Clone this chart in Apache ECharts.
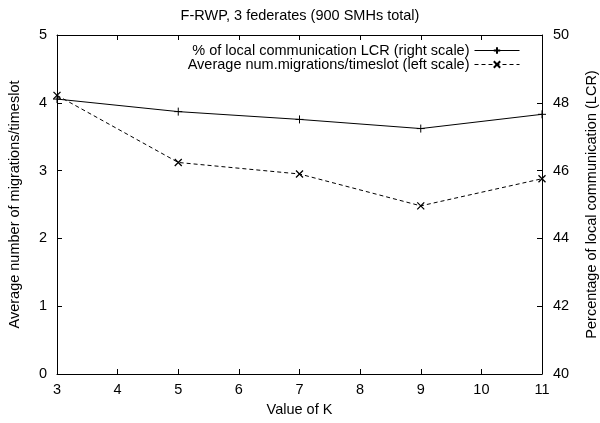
<!DOCTYPE html>
<html>
<head>
<meta charset="utf-8">
<script src="https://cdn.jsdelivr.net/npm/echarts@6/dist/echarts.min.js"></script>
<style>
  html, body { margin: 0; padding: 0; background: #fff; }
  #chart { width: 600px; height: 423px; }
</style>
</head>
<body>
<div id="chart"></div>
<script>
const kValues = [3, 5, 7, 9, 11]
const lcrPercent = [48.11, 47.74, 47.51, 47.24, 47.66]
const avgMigrations = [4.11, 3.12, 2.95, 2.48, 2.88]

const lcrName = '% of local communication LCR (right scale)'
const migName = 'Average num.migrations/timeslot (left scale)'

const font = 'Liberation Sans, Arial, Helvetica, sans-serif'
const fs = 14.5
const plus = 'path://M0,5L10,5M5,0L5,10'
const cross = 'path://M0,0L10,10M10,0L0,10'

const chart = echarts.init(document.getElementById('chart'))

const tickStyle = { inside: true, length: 5, lineStyle: { color: '#000', width: 1 } }
const txt = { fontFamily: font, fontSize: fs, color: '#000' }

const option = {
  animation: false,
  textStyle: { fontFamily: font, color: '#000' },
  title: {
    text: 'F-RWP, 3 federates (900 SMHs total)',
    left: 'center',
    top: 3,
    textStyle: { ...txt, fontWeight: 'normal' }
  },
  legend: {
    orient: 'vertical',
    align: 'right',
    right: 75,
    top: 38,
    itemGap: -1,
    itemWidth: 45,
    itemHeight: 8,
    textStyle: txt,
    lineStyle: { width: 1 },
    data: [lcrName, migName]
  },
  grid: { left: 57, right: 58, top: 35, bottom: 49, outerBoundsMode: 'none' },
  xAxis: [
    {
      type: 'value',
      min: 3,
      max: 11,
      interval: 1,
      name: 'Value of K',
      nameLocation: 'middle',
      nameGap: 28,
      nameTextStyle: txt,
      axisLine: { lineStyle: { color: '#000', width: 1 } },
      axisTick: tickStyle,
      axisLabel: { ...txt, margin: 8 },
      splitLine: { show: false }
    },
    {
      type: 'value',
      position: 'top',
      min: 3,
      max: 11,
      interval: 1,
      axisLine: { lineStyle: { color: '#000', width: 1 } },
      axisTick: tickStyle,
      axisLabel: { show: false },
      splitLine: { show: false }
    }
  ],
  yAxis: [
    {
      type: 'value',
      min: 0,
      max: 5,
      interval: 1,
      name: 'Average number of migrations/timeslot',
      nameLocation: 'middle',
      nameGap: 35,
      nameTextStyle: txt,
      axisLine: { show: true, lineStyle: { color: '#000', width: 1 } },
      axisTick: tickStyle,
      axisLabel: { ...txt, margin: 10 },
      splitLine: { show: false }
    },
    {
      type: 'value',
      min: 40,
      max: 50,
      interval: 2,
      position: 'right',
      name: 'Percentage of local communication (LCR)',
      nameLocation: 'middle',
      nameGap: 42,
      nameRotate: 90,
      nameTextStyle: txt,
      axisLine: { show: true, lineStyle: { color: '#000', width: 1 } },
      axisTick: tickStyle,
      axisLabel: { ...txt, margin: 11 },
      splitLine: { show: false }
    }
  ],
  series: [
    {
      name: lcrName,
      type: 'line',
      yAxisIndex: 1,
      data: kValues.map((k, i) => [k, lcrPercent[i]]),
      symbol: plus,
      symbolSize: 8,
      lineStyle: { color: '#000', width: 1 },
      itemStyle: { color: 'transparent', borderColor: '#000', borderWidth: 1 }
    },
    {
      name: migName,
      type: 'line',
      yAxisIndex: 0,
      data: kValues.map((k, i) => [k, avgMigrations[i]]),
      symbol: cross,
      symbolSize: 7,
      lineStyle: { color: '#000', width: 1, type: [4, 3] },
      itemStyle: { color: 'transparent', borderColor: '#000', borderWidth: 1.3 }
    }
  ]
}

chart.setOption(option)
</script>
</body>
</html>
